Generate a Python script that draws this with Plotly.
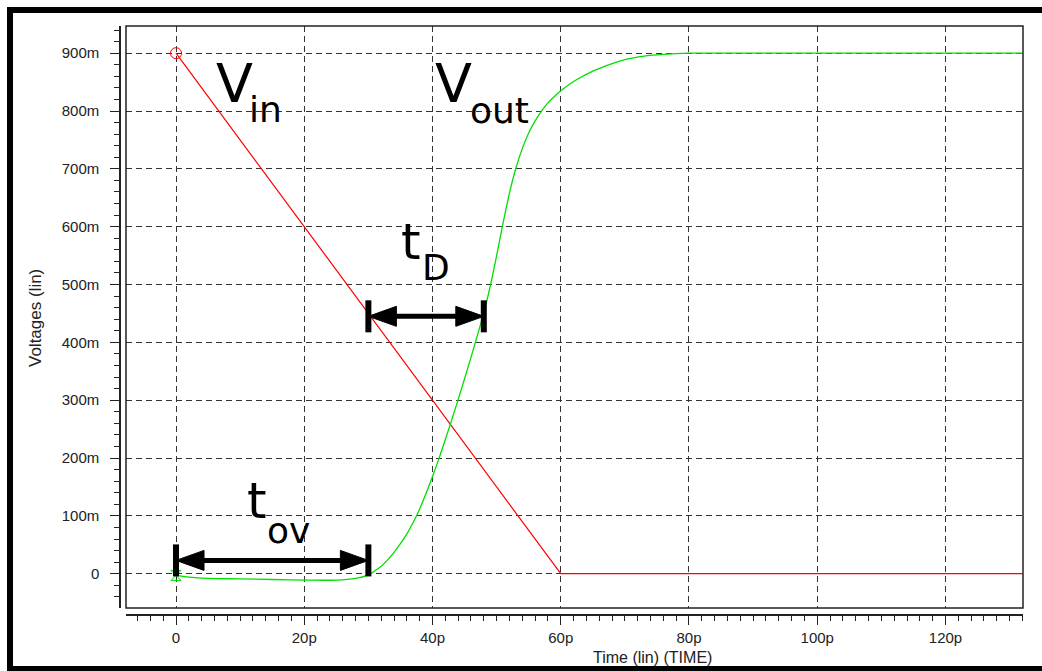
import plotly.graph_objects as go

# ---------------- data ----------------
vin_t = [0, 60, 132]                      # ps
vin_v = [0.900, 0.0, 0.0]                 # V

vout_t = [0, 2, 5, 10, 15, 20, 25, 28, 30, 31, 32, 33, 34, 35, 36, 37, 38, 39, 40,
          41, 42, 43, 44, 45, 46, 47, 48, 49, 50, 51, 52, 53, 54, 55, 56, 57, 58,
          59, 60, 62, 65, 68, 70, 73, 76, 80, 90, 132]
vout_v = [-0.003, -0.006, -0.008, -0.009, -0.010, -0.011, -0.011, -0.008, -0.002,
          0.005, 0.013, 0.024, 0.037, 0.052, 0.069, 0.089, 0.112, 0.139, 0.168,
          0.199, 0.232, 0.266, 0.301, 0.337, 0.374, 0.412, 0.451, 0.497, 0.550,
          0.606, 0.658, 0.701, 0.735, 0.762, 0.783, 0.800, 0.814, 0.825, 0.835,
          0.851, 0.869, 0.882, 0.889, 0.895, 0.898, 0.900, 0.900, 0.900]

x_tickvals = [0, 20, 40, 60, 80, 100, 120]
x_ticktext = ["0", "20p", "40p", "60p", "80p", "100p", "120p"]
y_tickvals = [0, 0.1, 0.2, 0.3, 0.4, 0.5, 0.6, 0.7, 0.8, 0.9]
y_ticktext = ["0", "100m", "200m", "300m", "400m", "500m", "600m", "700m", "800m", "900m"]

# delay markers (start, end, level)
t_ov = [0, 30, 0.023]
t_d = [30, 48, 0.445]

# ---------------- layout geometry ----------------
W, H = 1042, 671
ML, MR, MT, MB = 100, 10, 20, 40
PW, PH = W - ML - MR, H - MT - MB
xdom = [(126 - ML) / PW, (1023 - ML) / PW]
ydom = [(H - MB - 608) / PH, (H - MB - 26) / PH]
xrange_ = [-7.80, 132.09]
yrange_ = [-0.0593, 0.947]
px_per_x = PW * (xdom[1] - xdom[0]) / (xrange_[1] - xrange_[0])
px_per_y = PH * (ydom[1] - ydom[0]) / (yrange_[1] - yrange_[0])

RED = "#ff0000"
GREEN = "#00e000"

fig = go.Figure()
fig.add_trace(go.Scatter(x=vin_t, y=vin_v, mode="lines",
                         line=dict(color=RED, width=1.2), showlegend=False))
fig.add_trace(go.Scatter(x=vout_t, y=vout_v, mode="lines", line_shape="spline",
                         line=dict(color=GREEN, width=1.3), showlegend=False))
fig.add_trace(go.Scatter(x=vin_t[:1], y=vin_v[:1], mode="markers",
                         marker=dict(symbol="circle-open", size=11, color=RED,
                                     line=dict(color=RED, width=1)),
                         showlegend=False))
fig.add_trace(go.Scatter(x=vout_t[:1], y=vout_v[:1], mode="markers",
                         marker=dict(symbol="hourglass-open", size=10, color=GREEN,
                                     line=dict(color=GREEN, width=1)),
                         showlegend=False))


def px_x(p):
    return (p - ML) / PW


def px_y(p):
    return (H - MB - p) / PH


shapes = []
# outer thick frame: left, top, bottom edges (right edge lies outside the picture)
frame = dict(color="black", width=6)
shapes.append(dict(type="line", xref="paper", yref="paper",
                   x0=px_x(10), x1=px_x(10), y0=px_y(7), y1=px_y(671), line=frame, layer="above"))
shapes.append(dict(type="line", xref="paper", yref="paper",
                   x0=px_x(7), x1=px_x(1045), y0=px_y(10), y1=px_y(10), line=frame, layer="above"))
shapes.append(dict(type="line", xref="paper", yref="paper",
                   x0=px_x(7), x1=px_x(1045), y0=px_y(669), y1=px_y(669), line=frame, layer="above"))
# plot frame
shapes.append(dict(type="rect", xref="x domain", yref="y domain", x0=0, x1=1, y0=0, y1=1,
                   line=dict(color="#222", width=1.5), layer="above"))


def double_arrow(x0, x1, y):
    hl = 28 / px_per_x
    hh = 10 / px_per_y
    bh = 16 / px_per_y
    out = []
    out.append(dict(type="line", xref="x", yref="y", x0=x0 + hl * 0.5, x1=x1 - hl * 0.5,
                    y0=y, y1=y, line=dict(color="black", width=5)))
    out.append(dict(type="path", xref="x", yref="y",
                    path=f"M {x0},{y} L {x0 + hl},{y + hh} L {x0 + hl},{y - hh} Z",
                    fillcolor="black", line=dict(color="black", width=1)))
    out.append(dict(type="path", xref="x", yref="y",
                    path=f"M {x1},{y} L {x1 - hl},{y + hh} L {x1 - hl},{y - hh} Z",
                    fillcolor="black", line=dict(color="black", width=1)))
    for xb in (x0, x1):
        out.append(dict(type="line", xref="x", yref="y", x0=xb, x1=xb,
                        y0=y - bh, y1=y + bh, line=dict(color="black", width=6)))
    return out


shapes += double_arrow(t_ov[0], t_ov[1], t_ov[2])
shapes += double_arrow(t_d[0], t_d[1], t_d[2])

big = dict(family="DejaVu Sans", size=54, color="black")
sub = dict(family="DejaVu Sans", size=36, color="black")
tfont = dict(family="DejaVu Sans", size=50, color="black")


def ann(x, y, text, font):
    return dict(x=x, y=y, xref="x", yref="y", text=text, showarrow=False,
                font=font, xanchor="center", yanchor="middle")


annotations = [
    ann(9.05, 0.848, "V", big), ann(14.0, 0.803, "in", sub),
    ann(43.2, 0.848, "V", big), ann(50.5, 0.801, "out", sub),
    ann(36.6, 0.574, "t", tfont), ann(40.5, 0.530, "D", sub),
    ann(12.6, 0.125, "t", tfont), ann(17.6, 0.074, "ov", sub),
    dict(x=px_x(652), y=px_y(657), xref="paper", yref="paper",
         text="Time (lin) (TIME)", showarrow=False,
         font=dict(family="Liberation Sans", size=16, color="#222"),
         xanchor="center", yanchor="middle"),
    dict(x=px_x(35), y=px_y(318), xref="paper", yref="paper",
         text="Voltages (lin)", showarrow=False, textangle=-90,
         font=dict(family="Liberation Sans", size=17, color="#222"),
         xanchor="center", yanchor="middle"),
]

tickfont = dict(family="Liberation Sans", size=15, color="#222")

fig.update_layout(
    width=W, height=H, margin=dict(l=ML, r=MR, t=MT, b=MB, pad=0),
    paper_bgcolor="white", plot_bgcolor="white",
    shapes=shapes, annotations=annotations,
    xaxis=dict(domain=xdom, range=xrange_, anchor="free", position=px_y(615),
               tickmode="array", tickvals=x_tickvals, ticktext=x_ticktext,
               ticks="outside", ticklen=9, tickwidth=1.2, tickcolor="#222",
               showline=True, linecolor="#222", linewidth=1.5,
               showgrid=True, gridcolor="#333", gridwidth=1.1, griddash="6px,4px",
               zeroline=False, tickfont=tickfont,
               minor=dict(tickmode="linear", tick0=0, dtick=2, ticks="outside",
                          ticklen=5, tickcolor="#222", showgrid=False)),
    yaxis=dict(domain=ydom, range=yrange_, anchor="free", position=px_x(120),
               tickmode="array", tickvals=y_tickvals, ticktext=y_ticktext,
               ticks="outside", ticklen=9, tickwidth=1.2, tickcolor="#222",
               ticklabelstandoff=8,
               showline=True, linecolor="#222", linewidth=1.5,
               showgrid=True, gridcolor="#333", gridwidth=1.1, griddash="6px,4px",
               zeroline=False, tickfont=tickfont,
               minor=dict(tickmode="linear", tick0=0, dtick=0.02, ticks="outside",
                          ticklen=5, tickcolor="#222", showgrid=False)),
)

fig.write_html("out.html")
